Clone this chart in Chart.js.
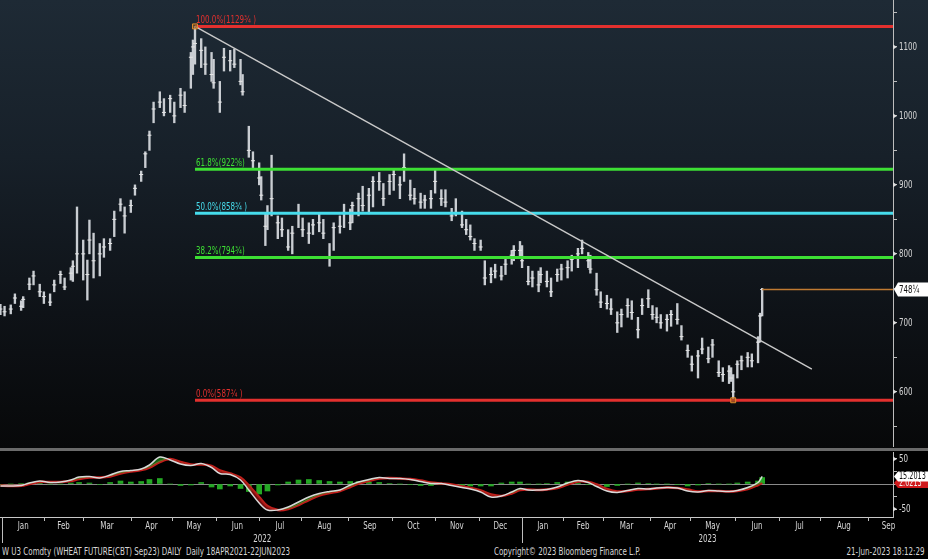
<!DOCTYPE html>
<html><head><meta charset="utf-8">
<script src="https://cdn.jsdelivr.net/npm/chart.js@4.4.1/dist/chart.umd.min.js"></script>
<style>
html,body{margin:0;padding:0;background:#000;width:928px;height:559px;overflow:hidden;}
#top{position:absolute;left:0;top:0;width:928px;height:448px;background:linear-gradient(to bottom,#1e2a35 0%,#172029 35%,#0e1217 70%,#070809 100%);}
#sep{position:absolute;left:0;top:448px;width:928px;height:3px;background:#6a6a6a;}
#pc{position:absolute;left:0;top:0;}
#mc{position:absolute;left:0;top:452px;}
.ft{position:absolute;top:545px;height:14px;line-height:14px;font-size:11px;font-family:'Liberation Sans Narrow','DejaVu Sans Condensed','Arial Narrow',sans-serif;color:#d6d6d6;white-space:pre;transform:scaleX(0.72);}
</style></head><body>
<div id="top"></div><div id="sep"></div>
<canvas id="pc" width="928" height="447"></canvas>
<canvas id="mc" width="928" height="92"></canvas>
<div class="ft" style="left:2px;transform-origin:left center">W U3 Comdty (WHEAT FUTURE(CBT) Sep23) DAILY  Daily 18APR2021-22JUN2023</div>
<div class="ft" style="left:494px;transform-origin:left center">Copyright© 2023 Bloomberg Finance L.P.</div>
<div class="ft" style="right:3px;transform-origin:right center">21-Jun-2023 18:12:29</div>
<script>
const FONT = "'Liberation Sans Narrow','DejaVu Sans Condensed','Arial Narrow',sans-serif";
const SX = 0.72; // horizontal condensing of text (Bloomberg narrow font)

// ---- trading calendar (CBOT holidays) ----
const holidays = ['2022-01-17','2022-02-21','2022-04-15','2022-05-30','2022-06-20','2022-07-04','2022-09-05','2022-11-24','2022-12-26','2023-01-02','2023-01-16','2023-02-20','2023-04-07','2023-05-29','2023-06-19','2023-07-04','2023-09-04'];

// ---- price bars (sampled sessions) ----
const dates = ['2021-12-31','2022-01-04','2022-01-07','2022-01-11','2022-01-14','2022-01-18','2022-01-21','2022-01-25','2022-01-28','2022-02-01','2022-02-04','2022-02-08','2022-02-11','2022-02-15','2022-02-18','2022-02-22','2022-02-24','2022-03-01','2022-03-03','2022-03-04','2022-03-08','2022-03-11','2022-03-15','2022-03-18','2022-03-22','2022-03-25','2022-03-29','2022-04-01','2022-04-05','2022-04-08','2022-04-12','2022-04-14','2022-04-19','2022-04-22','2022-04-26','2022-04-29','2022-05-03','2022-05-06','2022-05-10','2022-05-13','2022-05-16','2022-05-17','2022-05-20','2022-05-24','2022-05-27','2022-05-31','2022-06-03','2022-06-07','2022-06-10','2022-06-14','2022-06-17','2022-06-21','2022-06-24','2022-06-28','2022-07-01','2022-07-05','2022-07-07','2022-07-08','2022-07-12','2022-07-15','2022-07-19','2022-07-22','2022-07-26','2022-07-29','2022-08-02','2022-08-05','2022-08-09','2022-08-12','2022-08-16','2022-08-19','2022-08-23','2022-08-26','2022-08-30','2022-09-02','2022-09-06','2022-09-09','2022-09-13','2022-09-16','2022-09-20','2022-09-23','2022-09-27','2022-09-30','2022-10-04','2022-10-07','2022-10-11','2022-10-14','2022-10-18','2022-10-21','2022-10-25','2022-10-28','2022-11-01','2022-11-04','2022-11-08','2022-11-11','2022-11-15','2022-11-18','2022-11-22','2022-11-25','2022-11-29','2022-12-02','2022-12-06','2022-12-09','2022-12-13','2022-12-16','2022-12-20','2022-12-23','2022-12-27','2022-12-30','2023-01-03','2023-01-06','2023-01-10','2023-01-13','2023-01-17','2023-01-20','2023-01-24','2023-01-27','2023-01-31','2023-02-03','2023-02-07','2023-02-10','2023-02-14','2023-02-17','2023-02-21','2023-02-24','2023-02-28','2023-03-03','2023-03-07','2023-03-10','2023-03-14','2023-03-17','2023-03-21','2023-03-24','2023-03-28','2023-03-31','2023-04-04','2023-04-06','2023-04-11','2023-04-14','2023-04-18','2023-04-21','2023-04-25','2023-04-28','2023-05-02','2023-05-05','2023-05-09','2023-05-12','2023-05-16','2023-05-19','2023-05-23','2023-05-26','2023-05-30','2023-05-31','2023-06-02','2023-06-06','2023-06-09','2023-06-13','2023-06-16','2023-06-20','2023-06-21'];
const lows = [712,710,713,728,718,722,748,755,738,728,725,745,757,748,762,760,772,762,733,800,765,768,795,805,825,862,830,860,885,905,925,950,990,1012,1000,1005,990,1012,1005,1040,1060,1075,1070,1060,1050,1040,1005,1065,1065,1070,1045,1030,940,925,900,878,812,835,855,822,825,805,800,838,825,815,828,832,822,782,805,830,838,835,845,855,862,858,868,892,870,886,892,880,905,878,872,866,866,866,888,870,868,848,855,838,828,820,805,805,755,758,765,762,770,785,790,796,780,755,752,745,758,752,738,760,762,765,775,780,800,780,772,740,722,720,712,686,694,708,705,678,712,722,705,700,692,688,695,698,675,650,630,620,655,642,650,622,615,612,615,587.75,620,632,636,636,642,672,710];
const highs = [727,724,726,742,732,738,765,775,756,745,742,762,775,765,780,790,868,820,791,849,830,815,822,822,862,880,868,878,900,920,948,978,1020,1035,1025,1030,1020,1040,1035,1092,1110,1129.75,1112,1100,1092,1082,1050,1098,1095,1097,1082,1060,985,948,932,912,860,870,943,855,852,835,840,872,852,845,850,860,850,815,845,855,872,865,875,888,898,895,912,918,902,915,922,912,945,907,895,888,885,892,924,893,893,866,880,862,850,842,822,820,790,780,785,782,792,805,812,818,812,782,775,775,780,775,765,778,785,790,798,808,820,802,798,772,745,740,735,716,720,735,732,708,735,748,725,722,712,712,718,728,696,668,652,660,678,665,676,645,635,638,635,625,645,652,657,655,680,714,750];
const closes = [720,716,720,736,724,734,756,768,745,738,730,755,770,752,772,782,800,800,770,820,790,800,810,815,850,872,855,870,895,915,945,972,1010,1020,1005,1025,1000,1030,1015,1085,1100,1105,1095,1075,1060,1048,1020,1085,1080,1075,1050,1035,950,935,910,885,840,860,880,845,835,810,830,860,835,830,842,845,830,795,838,840,860,845,870,880,870,885,905,905,880,905,915,900,925,885,880,875,878,880,905,880,875,855,860,842,835,825,815,810,765,770,775,768,785,798,805,805,790,760,765,755,770,760,745,770,778,780,792,800,808,790,778,748,730,728,720,700,712,725,715,690,725,735,712,708,700,705,712,705,680,660,640,652,662,648,668,628,625,630,620,600,640,645,650,645,672,710,748.25];

// ---- MACD panel (weekly readings) ----
const macdDates = ['2021-12-31','2022-01-07','2022-01-14','2022-01-21','2022-01-28','2022-02-04','2022-02-11','2022-02-18','2022-02-25','2022-03-04','2022-03-11','2022-03-18','2022-03-25','2022-04-01','2022-04-08','2022-04-14','2022-04-22','2022-04-29','2022-05-06','2022-05-13','2022-05-20','2022-05-27','2022-06-03','2022-06-10','2022-06-17','2022-06-24','2022-07-01','2022-07-08','2022-07-15','2022-07-22','2022-07-29','2022-08-05','2022-08-12','2022-08-19','2022-08-26','2022-09-02','2022-09-09','2022-09-16','2022-09-23','2022-09-30','2022-10-07','2022-10-14','2022-10-21','2022-10-28','2022-11-04','2022-11-11','2022-11-18','2022-11-25','2022-12-02','2022-12-09','2022-12-16','2022-12-23','2022-12-30','2023-01-06','2023-01-13','2023-01-20','2023-01-27','2023-02-03','2023-02-10','2023-02-17','2023-02-24','2023-03-03','2023-03-10','2023-03-17','2023-03-24','2023-03-31','2023-04-06','2023-04-14','2023-04-21','2023-04-28','2023-05-05','2023-05-12','2023-05-19','2023-05-26','2023-06-02','2023-06-09','2023-06-16','2023-06-21'];
const macdLine = [-4,-4,-3,2,6,3,4,8,14,15,12,18,25,27,30,38,54,48,40,37,41,33,21,19,8,-12,-38,-52,-52,-46,-36,-26,-19,-15,-12,-2,4,9,13,11,11,9,5,1,1,-3,-7,-10,-16,-26,-24,-16,-9,-12,-12,-11,-6,2,7,3,-5,-14,-17,-13,-9,-10,-8,-7,-8,-14,-16,-13,-14,-15,-13,-7,3,15.2013];
const signalLine = [-3,-4,-3.5,0,4,4,4,6,10,13,13,15,21,25,28,33,44,50,44,39,39,36,27,21,13,-3,-26,-44,-52,-50,-42,-32,-23,-18,-14,-6,1,6,11,12,11,10,7,3,1,-1,-5,-8,-13,-21,-24,-19,-12,-11,-12,-11,-8,-1,5,4,-1,-10,-15,-14,-11,-10,-9,-7,-8,-11,-15,-14,-14,-15,-14,-10,-2,2.0213];
const histogram = [-1,0,1,2,3,0,0,2,3,2,-1,3,6,4,5,9,11,0,-3,-2,3,-6,-10,-4,-9,-15,-20,-14,-2,4,8,9,7,5,4,5,5,4,3,1,0,-1,-3,-3,-1,-3,-3,-4,-4,-4,2,4,4,0,0,1,3,4,2,-1,-4,-5,-3,0,2,1,0,0,-1,-4,-2,1,0,0,2,4,6,13];
const macdLastLabel = '15.2013';
const signalLastLabel = '2.0213';

// ---- axes ----
const priceTicks = [550,600,650,700,750,800,850,900,950,1000,1050,1100,1150];
const macdTicks = [-50,-25,0,25,50];
const macdTickLabels = {'-50':'-50','50':'50'};
const monthStarts = ['2022-01-03','2022-02-01','2022-03-01','2022-04-01','2022-05-02','2022-06-01','2022-07-01','2022-08-01','2022-09-01','2022-10-03','2022-11-01','2022-12-01','2023-01-03','2023-02-01','2023-03-01','2023-04-03','2023-05-01','2023-06-01','2023-07-03','2023-08-01','2023-09-01','2023-10-02'];
const monthLabels = ['Jan','Feb','Mar','Apr','May','Jun','Jul','Aug','Sep','Oct','Nov','Dec','Jan','Feb','Mar','Apr','May','Jun','Jul','Aug','Sep'];
const yearStarts = ['2022-01-03','2023-01-03'];
const yearLabels = ['2022','2023'];

// ---- studies ----
const fibStartDate = '2022-05-17';
const fibLevels = [1129.75, 922.7, 858.75, 794.8, 587.75];
const fibLabels = ['100.0%(1129\u00be )','61.8%(922\u215d)','50.0%(858\u00be )','38.2%(794\u00be)','0.0%(587\u00be )'];
const fibColors = ['#e3302e','#3ddf34','#46dcec','#3ddf34','#e3302e'];
const swingDates = ['2022-05-17','2023-05-31'];
const swingValues = [1129.75, 587.75];
const trendDates = ['2022-05-17','2023-07-26'];
const trendValues = [1129.75, 633];
const lastPrice = 748.25;
const lastPriceLabel = '748\u00bc';

// ---- trading-day index ----
const DAY = 86400000, hol = new Set(holidays);
const isoOf = ms => new Date(ms).toISOString().slice(0,10);
const BASE = Date.parse('2021-11-01T00:00:00Z');
const cache = {};
function countTD(s){
  if (cache[s] !== undefined) return cache[s];
  let n = 0; const end = Date.parse(s + 'T00:00:00Z');
  for (let ms = BASE; ms < end; ms += DAY){ const wd = new Date(ms).getUTCDay(); if (wd !== 0 && wd !== 6 && !hol.has(isoOf(ms))) n++; }
  return (cache[s] = n);
}
const T0 = countTD('2022-01-03');
const tIdx = s => countTD(s) - T0;
const X_MIN = -1.2, X_MAX = 430.2;

Chart.defaults.font.family = FONT;
Chart.defaults.font.size = 11;
Chart.defaults.color = '#d6d6d6';

function sText(ctx, txt, x, y, align, baseline, color, size){
  ctx.save(); ctx.font = size + 'px ' + FONT; ctx.fillStyle = color; ctx.textAlign = align; ctx.textBaseline = baseline;
  ctx.translate(x, y); ctx.scale(SX, 1); ctx.fillText(txt, 0, 0); ctx.restore();
}
function tri(ctx, x, y){ ctx.beginPath(); ctx.moveTo(x, y-2.5); ctx.lineTo(x+4, y); ctx.lineTo(x, y+2.5); ctx.closePath(); ctx.fill(); }
function valueBox(ctx, x, y, h, bg, fg, txt, fs){
  ctx.fillStyle = bg; ctx.beginPath(); ctx.moveTo(x+1, y); ctx.lineTo(x+5, y-h/2); ctx.lineTo(928, y-h/2); ctx.lineTo(928, y+h/2); ctx.lineTo(x+5, y+h/2); ctx.closePath(); ctx.fill();
  sText(ctx, txt, x+6, y+0.5, 'left', 'middle', fg, fs);
}

const priceDecor = {
  id: 'priceDecor',
  afterDatasetsDraw(chart){
    const {ctx, scales:{x, y}} = chart;
    const x0 = x.getPixelForValue(tIdx(fibStartDate));
    fibLevels.forEach((v, i) => sText(ctx, fibLabels[i], x0 + 1, y.getPixelForValue(v) - 3, 'left', 'alphabetic', fibColors[i], 11));
  },
  afterDraw(chart){
    const {ctx, chartArea:ca, scales:{y}} = chart;
    ctx.save(); ctx.fillStyle = '#dcdcdc';
    y.ticks.forEach(t => {
      if (t.value % 100 === 0){
        const py = y.getPixelForValue(t.value);
        ctx.fillStyle = '#dcdcdc'; tri(ctx, ca.right, py);
        sText(ctx, String(t.value), ca.right + 6, py + 0.5, 'left', 'middle', '#d6d6d6', 11);
      }
    });
    valueBox(ctx, ca.right, y.getPixelForValue(lastPrice), 14, '#ffffff', '#111', lastPriceLabel, 11);
    ctx.restore();
  }
};

const pts = (ds, vs) => ds.map((d, i) => ({x: tIdx(d), y: vs[i]}));

new Chart(document.getElementById('pc'), {
  type: 'bar',
  data: { datasets: [
    { type:'line', data: pts(swingDates, swingValues), showLine:false, pointStyle:'rect', pointRadius:3.5, pointBorderColor:'#e08c2c', pointBackgroundColor:'rgba(140,90,30,0.6)', pointBorderWidth:1 },
    { type:'line', data: pts(trendDates, trendValues), borderColor:'#c9c9c9', borderWidth:1.4, pointRadius:0 },
    { type:'line', data: [{x: tIdx(dates[dates.length-1]), y: lastPrice}, {x: X_MAX, y: lastPrice}], borderColor:'#c07a32', borderWidth:1.5, pointRadius:0 },
    ...fibLevels.map((v, i) => ({ type:'line', data:[{x: tIdx(fibStartDate), y: v}, {x: X_MAX, y: v}], borderColor: fibColors[i], borderWidth: 3, pointRadius: 0 })),
    { type:'line', data: pts(dates, closes), showLine:false, pointStyle:'line', pointRadius:2, pointBorderColor:'#e6e6e6', pointBorderWidth:1 },
    { type:'bar', data: dates.map((d, i) => ({x: tIdx(d), y: [lows[i], highs[i]]})), backgroundColor:'#c9cdd2', barThickness: 1.7 }
  ]},
  options: {
    responsive:false, animation:false, devicePixelRatio:1,
    layout:{ padding:0, autoPadding:false },
    plugins:{ legend:{display:false}, tooltip:{enabled:false} },
    scales: {
      x: { type:'linear', min:X_MIN, max:X_MAX, offset:false, display:false },
      y: { type:'linear', position:'right', min:520, max:1168,
        afterBuildTicks: s => { s.ticks = priceTicks.map(v => ({value: v})); },
        afterFit: s => { s.width = 35; s.paddingTop = 0; s.paddingBottom = 0; },
        ticks: { display:false },
        grid: { drawOnChartArea:false, tickLength:4, tickColor:'#bdbdbd' },
        border: { color:'#bdbdbd', width:1 } }
    }
  },
  plugins: [priceDecor]
});

const mids = monthLabels.map((_, i) => (tIdx(monthStarts[i]) + tIdx(monthStarts[i+1])) / 2);

const macdDecor = {
  id: 'macdDecor',
  afterDraw(chart){
    const {ctx, chartArea:ca, scales:{x, y}} = chart;
    ctx.save();
    ctx.strokeStyle = '#bdbdbd'; ctx.lineWidth = 1;
    monthStarts.forEach(d => {
      const px = Math.round(x.getPixelForValue(tIdx(d))) + 0.5; if (px > ca.right) return;
      ctx.beginPath(); ctx.moveTo(px, ca.bottom); ctx.lineTo(px, ca.bottom + (yearStarts.includes(d) ? 26 : 4)); ctx.stroke();
    });
    x.ticks.forEach((t, i) => sText(ctx, monthLabels[i], x.getPixelForValue(t.value), ca.bottom + 9.5, 'center', 'middle', '#d6d6d6', 11));
    yearStarts.forEach((d, i) => {
      const a = x.getPixelForValue(tIdx(d));
      const b = i + 1 < yearStarts.length ? x.getPixelForValue(tIdx(yearStarts[i+1])) : ca.right;
      sText(ctx, yearLabels[i], (a + b) / 2, ca.bottom + 22, 'center', 'middle', '#d6d6d6', 11);
    });
    y.ticks.forEach(t => {
      const lab = macdTickLabels[String(t.value)];
      if (lab){ const py = y.getPixelForValue(t.value); ctx.fillStyle = '#dcdcdc'; tri(ctx, ca.right, py); sText(ctx, lab, ca.right + 6, py + 0.5, 'left', 'middle', '#d6d6d6', 11); }
    });
    const n = macdLine.length - 1;
    valueBox(ctx, ca.right, y.getPixelForValue(signalLine[n]), 10, '#d0191c', '#f2f2f2', signalLastLabel, 10);
    valueBox(ctx, ca.right, y.getPixelForValue(macdLine[n]), 10, '#ffffff', '#111', macdLastLabel, 10);
    ctx.restore();
  }
};

new Chart(document.getElementById('mc'), {
  type: 'bar',
  data: { datasets: [
    { type:'line', data: pts(macdDates, macdLine), borderColor:'#d9d9d9', borderWidth:1.5, pointRadius:0, tension:0.35,
      fill:{ target:1, above:'rgba(40,175,40,0.55)', below:'rgba(165,20,20,0.7)' } },
    { type:'line', data: pts(macdDates, signalLine), borderColor:'#c41c1c', borderWidth:2.5, pointRadius:0, tension:0.35 },
    { type:'bar', data: pts(macdDates, histogram), backgroundColor:'#24a824', barThickness: 5 }
  ]},
  options: {
    responsive:false, animation:false, devicePixelRatio:1,
    layout:{ padding:0, autoPadding:false },
    plugins:{ legend:{display:false}, tooltip:{enabled:false} },
    scales: {
      x: { type:'linear', min:X_MIN, max:X_MAX, offset:false,
        afterBuildTicks: s => { s.ticks = mids.map(v => ({value: v})); },
        afterFit: s => { s.height = 27; s.paddingLeft = 0; s.paddingRight = 0; },
        ticks: { display:false },
        grid: { display:false },
        border: { display:true, color:'#c8c8c8', width:1 } },
      y: { type:'linear', position:'right', min:-66, max:64,
        afterBuildTicks: s => { s.ticks = macdTicks.map(v => ({value: v})); },
        afterFit: s => { s.width = 35; s.paddingTop = 0; s.paddingBottom = 0; },
        ticks: { display:false },
        grid: { drawOnChartArea:true, color: c => (c.tick && c.tick.value === 0 ? '#8a8a8a' : 'rgba(0,0,0,0)'), tickLength:4, tickColor:'#bdbdbd' },
        border: { color:'#bdbdbd', width:1 } }
    }
  },
  plugins: [macdDecor]
});
</script>
</body></html>
